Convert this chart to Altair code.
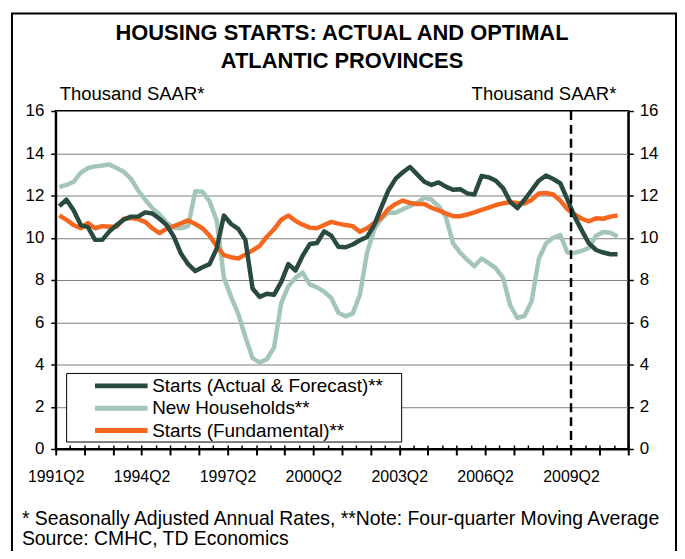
import altair as alt
import pandas as pd

FONT = "Liberation Sans"

# ---------------- data ----------------
quarters = []
yy, qq = 1991, 2
for _ in range(80):
    quarters.append(f"{yy}Q{qq}")
    qq += 1
    if qq == 5:
        qq, yy = 1, yy + 1

tick_labels = ["1991Q2", "1994Q2", "1997Q2", "2000Q2", "2003Q2", "2006Q2", "2009Q2"]
forecast_quarter = "2009Q2"

names = ["Starts (Actual & Forecast)**", "New Households**", "Starts (Fundamental)**"]
colors = ["#284A3F", "#A4C6B9", "#F5661F"]

starts_actual = [
    11.5, 11.8, 11.3, 10.6, 10.5, 9.9, 9.9, 10.3, 10.6, 10.85,
    11.0, 11.0, 11.2, 11.15, 10.9, 10.6, 10.05, 9.25, 8.75, 8.42,
    8.6, 8.75, 9.5, 11.05, 10.65, 10.42, 9.9, 7.6, 7.2, 7.35,
    7.3, 7.9, 8.75, 8.45, 9.15, 9.7, 9.75, 10.3, 10.1, 9.57,
    9.55, 9.68, 9.88, 10.04, 10.6, 11.45, 12.25, 12.8, 13.1, 13.35,
    13.0, 12.65, 12.5, 12.62, 12.42, 12.27, 12.3, 12.1, 12.05, 12.92,
    12.86, 12.7, 12.35, 11.7, 11.4, 11.8, 12.25, 12.7, 12.95, 12.78,
    12.58, 11.8, 11.0, 10.35, 9.73, 9.42, 9.3, 9.22, 9.22,
]
new_households = [
    12.4, 12.5, 12.65, 13.08, 13.3, 13.38, 13.42, 13.47, 13.3, 13.12,
    12.8, 12.25, 11.8, 11.4, 11.1, 10.72, 10.47, 10.45, 10.55, 12.2,
    12.18, 11.72, 10.8, 8.1, 7.2, 6.4, 5.3, 4.3, 4.1, 4.25,
    4.8, 6.9, 7.7, 8.1, 8.35, 7.8, 7.65, 7.45, 7.15, 6.45,
    6.28, 6.42, 7.3, 9.3, 10.4, 10.9, 11.2, 11.18, 11.35, 11.5,
    11.65, 11.9, 11.8, 11.5, 11.0, 9.75, 9.3, 8.95, 8.65, 9.02,
    8.8, 8.55, 8.1, 6.8, 6.2, 6.3, 7.0, 9.0, 9.73, 10.0,
    10.13, 9.3, 9.28, 9.38, 9.52, 10.1, 10.27, 10.24, 10.06,
]
starts_fundamental = [
    11.06, 10.85, 10.6, 10.45, 10.7, 10.45, 10.55, 10.52, 10.52, 10.9,
    10.93, 10.88, 10.75, 10.45, 10.22, 10.43, 10.55, 10.68, 10.82, 10.65,
    10.45, 10.1, 9.6, 9.18, 9.08, 9.02, 9.2, 9.4, 9.62, 10.05,
    10.4, 10.85, 11.05, 10.8, 10.62, 10.48, 10.45, 10.6, 10.75, 10.67,
    10.6, 10.55, 10.28, 10.45, 10.7, 10.95, 11.37, 11.6, 11.76, 11.65,
    11.6, 11.6, 11.42, 11.3, 11.15, 11.02, 11.02, 11.1, 11.2, 11.32,
    11.43, 11.55, 11.63, 11.68, 11.65, 11.62, 11.8, 12.1, 12.12, 12.05,
    11.76, 11.35, 11.1, 10.9, 10.78, 10.92, 10.9, 11.0, 11.05,
]

# draw order: light first, orange, dark on top
series_in_draw_order = [(names[1], new_households), (names[2], starts_fundamental), (names[0], starts_actual)]
rows = []
for nm, vals in series_in_draw_order:
    for i, v in enumerate(vals):
        rows.append({"idx": i, "quarter": quarters[i], "series": nm, "value": v})
df = pd.DataFrame(rows)

n_slots = len(quarters)
year_ticks = [i - 0.5 for i in range(0, n_slots + 1, 4)]
half_ticks = [i - 0.5 for i in range(0, n_slots + 1, 2)]
y_ticks = list(range(0, 17, 2))
label_expr = ("(datum.value + 0.5) % 12 == 0 ? " + str(tick_labels) +
              "[round((datum.value + 0.5) / 12)] : ''")

W, H = 576, 340
xscale = alt.Scale(domain=[-0.5, n_slots - 0.5], nice=False, zero=False)
yscale = alt.Scale(domain=[0, 16], nice=False, zero=True)

one = pd.DataFrame({"a": [0]})

border = alt.Chart(one).mark_rect(fillOpacity=0, stroke="black", strokeWidth=2).encode(
    x=alt.value(-44), x2=alt.value(624), y=alt.value(-98), y2=alt.value(480))

legend_box = alt.Chart(one).mark_rect(fill="white", stroke="black", strokeWidth=1).encode(
    x=alt.value(11), x2=alt.value(348), y=alt.value(264), y2=alt.value(333))

lines = alt.Chart(df).mark_line(strokeWidth=4.5, strokeJoin="round").encode(
    x=alt.X("idx:Q", scale=xscale,
            axis=alt.Axis(orient="bottom", values=year_ticks, tickSize=6, tickWidth=2,
                          tickColor="black", domainColor="black", domainWidth=2,
                          labelExpr=label_expr, labelFontSize=16, labelPadding=14,
                          labelFlush=False, labelOverlap=False, grid=False, title=None)),
    y=alt.Y("value:Q", scale=yscale,
            axis=alt.Axis(orient="left", values=y_ticks, tickSize=5, tickWidth=1.5,
                          tickColor="black", domainColor="black", domainWidth=2,
                          labelFontSize=17, labelPadding=7, grid=True,
                          gridColor="#7f7f7f", gridWidth=1, title=None)),
    color=alt.Color("series:N", scale=alt.Scale(domain=names, range=colors),
                    legend=alt.Legend(orient="none", legendX=11, legendY=267, title=None,
                                      symbolType="M-5,0H5", symbolSize=112,
                                      symbolStrokeWidth=5, symbolOffset=45.5,
                                      labelOffset=21.5, labelFontSize=19, labelFont=FONT,
                                      labelColor="black", padding=0, rowPadding=1.5,
                                      labelLimit=400)),
    order=alt.Order("idx:Q"),
)

aux = alt.Chart(df).mark_point(opacity=0).encode(
    x=alt.X("idx:Q", scale=xscale,
            axis=alt.Axis(orient="top", offset=-H, values=half_ticks, tickSize=4,
                          tickWidth=1.5, tickColor="black", labels=False, domain=False,
                          grid=False, title=None)),
    y=alt.Y("value:Q", scale=yscale,
            axis=alt.Axis(orient="right", values=y_ticks, tickSize=5, tickWidth=1.5,
                          tickColor="black", domainColor="black", domainWidth=2,
                          labelFontSize=17, labelPadding=6, grid=False, title=None)),
)

fc = pd.DataFrame({"q": [quarters.index(forecast_quarter) - 0.5]})
rule = alt.Chart(fc).mark_rule(strokeDash=[9, 5], strokeWidth=2.5, color="black").encode(
    x=alt.X("q:Q", scale=xscale, axis=None))


def txt(s, x, y, size, weight="normal", align="left"):
    return alt.Chart(pd.DataFrame({"t": [s]})).mark_text(
        font=FONT, fontSize=size, fontWeight=weight, align=align, baseline="middle",
        color="black").encode(x=alt.value(x), y=alt.value(y), text="t:N")


texts = [
    txt("HOUSING STARTS: ACTUAL AND OPTIMAL", W / 2, -78, 22, "bold", "center"),
    txt("ATLANTIC PROVINCES", W / 2, -50, 22, "bold", "center"),
    txt("Thousand SAAR*", 4, -17, 18.6),
    txt("Thousand SAAR*", 564, -17, 18.6, align="right"),
    txt("* Seasonally Adjusted Annual Rates, **Note: Four-quarter Moving Average", -34, 410, 19.5),
    txt("Source: CMHC, TD Economics", -34, 431, 19.5),
]

chart = alt.layer(border, legend_box, aux, lines, rule, *texts).properties(
    width=W, height=H,
    autosize=alt.AutoSizeParams(type="none"),
    padding={"left": 48, "top": 102, "right": 49, "bottom": 101},
).configure_view(stroke="black", strokeWidth=2).configure_axis(
    labelFont=FONT, labelColor="black")

chart.save("out.html", embed_options={"renderer": "svg", "actions": False})
